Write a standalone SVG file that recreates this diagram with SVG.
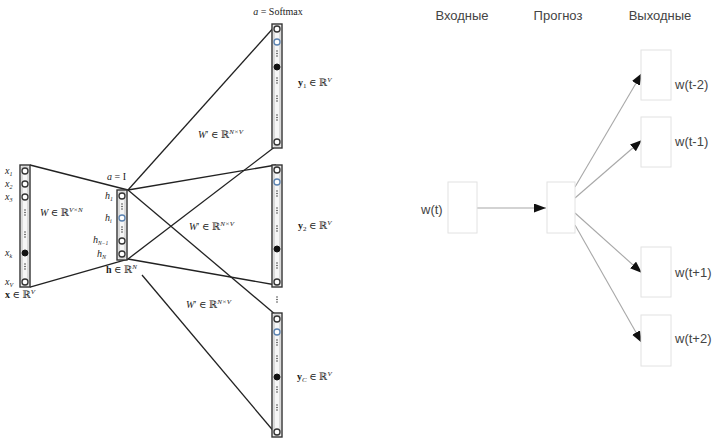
<svg xmlns="http://www.w3.org/2000/svg" width="715" height="438" viewBox="0 0 715 438">
<style>
.bar{fill:#f6f6f6;stroke:#333;stroke-width:1.4}
.inner{fill:none;stroke:#9a9a9a;stroke-width:0.6}
.c{fill:#fff;stroke:#333;stroke-width:1.3}
.cb{fill:#fff;stroke:#5a82b0;stroke-width:1.3}
.cf{fill:#111;stroke:#111}
.dot{fill:#444}
.ln{stroke:#222;stroke-width:1.3;fill:none}
.m{font-family:"Liberation Serif","DejaVu Serif",serif;font-size:10px;fill:#222}
.mi{font-style:italic}
.s{font-family:"Liberation Sans","DejaVu Sans",sans-serif;font-size:13px;fill:#444}
.box{fill:#fff;stroke:#e2e2e2;stroke-width:1}
.ar{stroke:#a8a8a8;stroke-width:1.1;fill:none;marker-end:url(#ah)}
</style>
<defs>
<marker id="ah" markerUnits="userSpaceOnUse" markerWidth="14" markerHeight="10" refX="12" refY="4.5" orient="auto">
<path d="M0,0 L12,4.5 L0,9 z" fill="#111"/>
</marker>
<g id="vd"><circle cx="0" cy="0" r="0.8" class="dot"/><circle cx="0" cy="2.5" r="0.8" class="dot"/><circle cx="0" cy="5" r="0.8" class="dot"/></g>
</defs>
<rect width="715" height="438" fill="#fff"/>

<g id="connectors">
<line class="ln" x1="30" y1="165" x2="128" y2="190"/>
<line class="ln" x1="30" y1="287" x2="128" y2="259"/>
<line class="ln" x1="128" y1="190" x2="276" y2="25"/>
<line class="ln" x1="128" y1="190" x2="276" y2="165"/>
<line class="ln" x1="128" y1="190" x2="276" y2="315"/>
<line class="ln" x1="128" y1="259" x2="276" y2="146"/>
<line class="ln" x1="128" y1="259" x2="276" y2="285"/>
<line class="ln" x1="142" y1="275" x2="276" y2="434"/>
<line class="ar" x1="477" y1="208" x2="546" y2="208"/>
<line class="ar" x1="575" y1="187" x2="642" y2="73"/>
<line class="ar" x1="575" y1="198" x2="642" y2="140"/>
<line class="ar" x1="575" y1="213" x2="642" y2="273"/>
<line class="ar" x1="575" y1="225" x2="642" y2="343"/>
</g>

<g id="input-layer">
<rect class="bar" x="20" y="165" width="10" height="122"/>
<rect class="inner" x="22" y="167" width="6" height="118"/>
<circle class="c" cx="25" cy="171" r="3"/>
<circle class="c" cx="25" cy="184" r="3"/>
<circle class="c" cx="25" cy="197" r="3"/>
<use href="#vd" x="25" y="210"/>
<use href="#vd" x="25" y="232"/>
<circle class="cf" cx="25" cy="253" r="3"/>
<use href="#vd" x="25" y="264"/>
<circle class="c" cx="25" cy="282" r="3"/>
<text class="m mi" x="5" y="174" font-size="8">x<tspan font-size="6" dy="1.5">1</tspan></text>
<text class="m mi" x="5" y="187" font-size="8">x<tspan font-size="6" dy="1.5">2</tspan></text>
<text class="m mi" x="5" y="200" font-size="8">x<tspan font-size="6" dy="1.5">3</tspan></text>
<text class="m mi" x="5" y="256" font-size="8">x<tspan font-size="6" dy="1.5">k</tspan></text>
<text class="m mi" x="5" y="285" font-size="8">x<tspan font-size="6" dy="1.5">V</tspan></text>
<text class="m" x="5" y="298"><tspan font-weight="bold">x</tspan> ∈ ℝ<tspan font-size="7" dy="-4" class="mi">V</tspan></text>
<text class="m" x="40" y="216"><tspan class="mi">W</tspan> ∈ ℝ<tspan font-size="7" dy="-4" class="mi">V×N</tspan></text>
</g>

<g id="hidden-layer">
<rect class="bar" x="117" y="190" width="10" height="70"/>
<rect class="inner" x="119" y="192" width="6" height="66"/>
<circle class="c" cx="122" cy="196" r="3"/>
<use href="#vd" x="122" y="204"/>
<circle class="cb" cx="122" cy="218" r="3"/>
<use href="#vd" x="122" y="227"/>
<circle class="c" cx="122" cy="241" r="3"/>
<circle class="c" cx="122" cy="254" r="3"/>
<text class="m mi" x="105" y="199" font-size="9">h<tspan font-size="6" dy="1.5">1</tspan></text>
<text class="m mi" x="105" y="221" font-size="9">h<tspan font-size="6" dy="1.5">i</tspan></text>
<text class="m mi" x="93" y="243" font-size="9">h<tspan font-size="5.5" dy="1.5">N−1</tspan></text>
<text class="m mi" x="97" y="257" font-size="9">h<tspan font-size="6" dy="1.5">N</tspan></text>
<text class="m" x="107" y="180"><tspan class="mi">a</tspan> = I</text>
<text class="m" x="106" y="273"><tspan font-weight="bold">h</tspan> ∈ ℝ<tspan font-size="7" dy="-4" class="mi">N</tspan></text>
</g>

<g id="output-1">
<rect class="bar" x="272" y="24" width="10" height="124"/>
<rect class="inner" x="274" y="26" width="6" height="120"/>
<circle class="c" cx="277" cy="29" r="3"/>
<circle class="cb" cx="277" cy="42" r="3"/>
<use href="#vd" x="277" y="51"/>
<circle class="cf" cx="277" cy="67" r="3"/>
<use href="#vd" x="277" y="78"/>
<use href="#vd" x="277" y="96"/>
<use href="#vd" x="277" y="115"/>
<circle class="c" cx="277" cy="142" r="3"/>
<text class="m" x="278" y="15" text-anchor="middle" font-size="9"><tspan class="mi">a</tspan> = Softmax</text>
<text class="m" x="298" y="86"><tspan font-weight="bold">y</tspan><tspan font-size="7" dy="1.5">1</tspan><tspan dy="-1.5"> ∈ ℝ</tspan><tspan font-size="7" dy="-4" class="mi">V</tspan></text>
<text class="m" x="198" y="138"><tspan class="mi">W</tspan>′ ∈ ℝ<tspan font-size="7" dy="-4" class="mi">N×V</tspan></text>
</g>

<g id="output-2">
<rect class="bar" x="272" y="165" width="10" height="122"/>
<rect class="inner" x="274" y="167" width="6" height="118"/>
<circle class="c" cx="277" cy="170" r="3"/>
<circle class="cb" cx="277" cy="182" r="3"/>
<use href="#vd" x="277" y="191"/>
<use href="#vd" x="277" y="208"/>
<use href="#vd" x="277" y="226"/>
<circle class="cf" cx="277" cy="249" r="3"/>
<use href="#vd" x="277" y="263"/>
<circle class="c" cx="277" cy="282" r="3"/>
<text class="m" x="298" y="229"><tspan font-weight="bold">y</tspan><tspan font-size="7" dy="1.5">2</tspan><tspan dy="-1.5"> ∈ ℝ</tspan><tspan font-size="7" dy="-4" class="mi">V</tspan></text>
<text class="m" x="189" y="230"><tspan class="mi">W</tspan>′ ∈ ℝ<tspan font-size="7" dy="-4" class="mi">N×V</tspan></text>
<use href="#vd" x="277" y="297"/>
</g>

<g id="output-C">
<rect class="bar" x="272" y="313" width="10" height="124"/>
<rect class="inner" x="274" y="315" width="6" height="120"/>
<circle class="c" cx="277" cy="319" r="3"/>
<circle class="cb" cx="277" cy="332" r="3"/>
<use href="#vd" x="277" y="340"/>
<use href="#vd" x="277" y="356"/>
<circle class="cf" cx="277" cy="377" r="3"/>
<use href="#vd" x="277" y="387"/>
<use href="#vd" x="277" y="405"/>
<circle class="c" cx="277" cy="432" r="3"/>
<text class="m" x="297" y="380"><tspan font-weight="bold">y</tspan><tspan font-size="7" dy="1.5" class="mi">C</tspan><tspan dy="-1.5"> ∈ ℝ</tspan><tspan font-size="7" dy="-4" class="mi">V</tspan></text>
<text class="m" x="186" y="308"><tspan class="mi">W</tspan>′ ∈ ℝ<tspan font-size="7" dy="-4" class="mi">N×V</tspan></text>
</g>

<g id="headers">
<text class="s" x="462" y="20" text-anchor="middle">Входные</text>
<text class="s" x="558" y="20" text-anchor="middle">Прогноз</text>
<text class="s" x="660" y="20" text-anchor="middle">Выходные</text>
</g>

<g id="node-input">
<rect class="box" x="448" y="182" width="29" height="51"/>
<text class="s" x="421" y="214">w(t)</text>
</g>
<g id="node-projection">
<rect class="box" x="547" y="182" width="28" height="51"/>
</g>
<g id="node-out-t-2">
<rect class="box" x="641" y="50" width="30" height="50"/>
<text class="s" x="675" y="89">w(t-2)</text>
</g>
<g id="node-out-t-1">
<rect class="box" x="641" y="117" width="30" height="50"/>
<text class="s" x="675" y="146">w(t-1)</text>
</g>
<g id="node-out-t+1">
<rect class="box" x="641" y="247" width="30" height="50"/>
<text class="s" x="675" y="277">w(t+1)</text>
</g>
<g id="node-out-t+2">
<rect class="box" x="641" y="315" width="30" height="51"/>
<text class="s" x="675" y="343">w(t+2)</text>
</g>
</svg>
